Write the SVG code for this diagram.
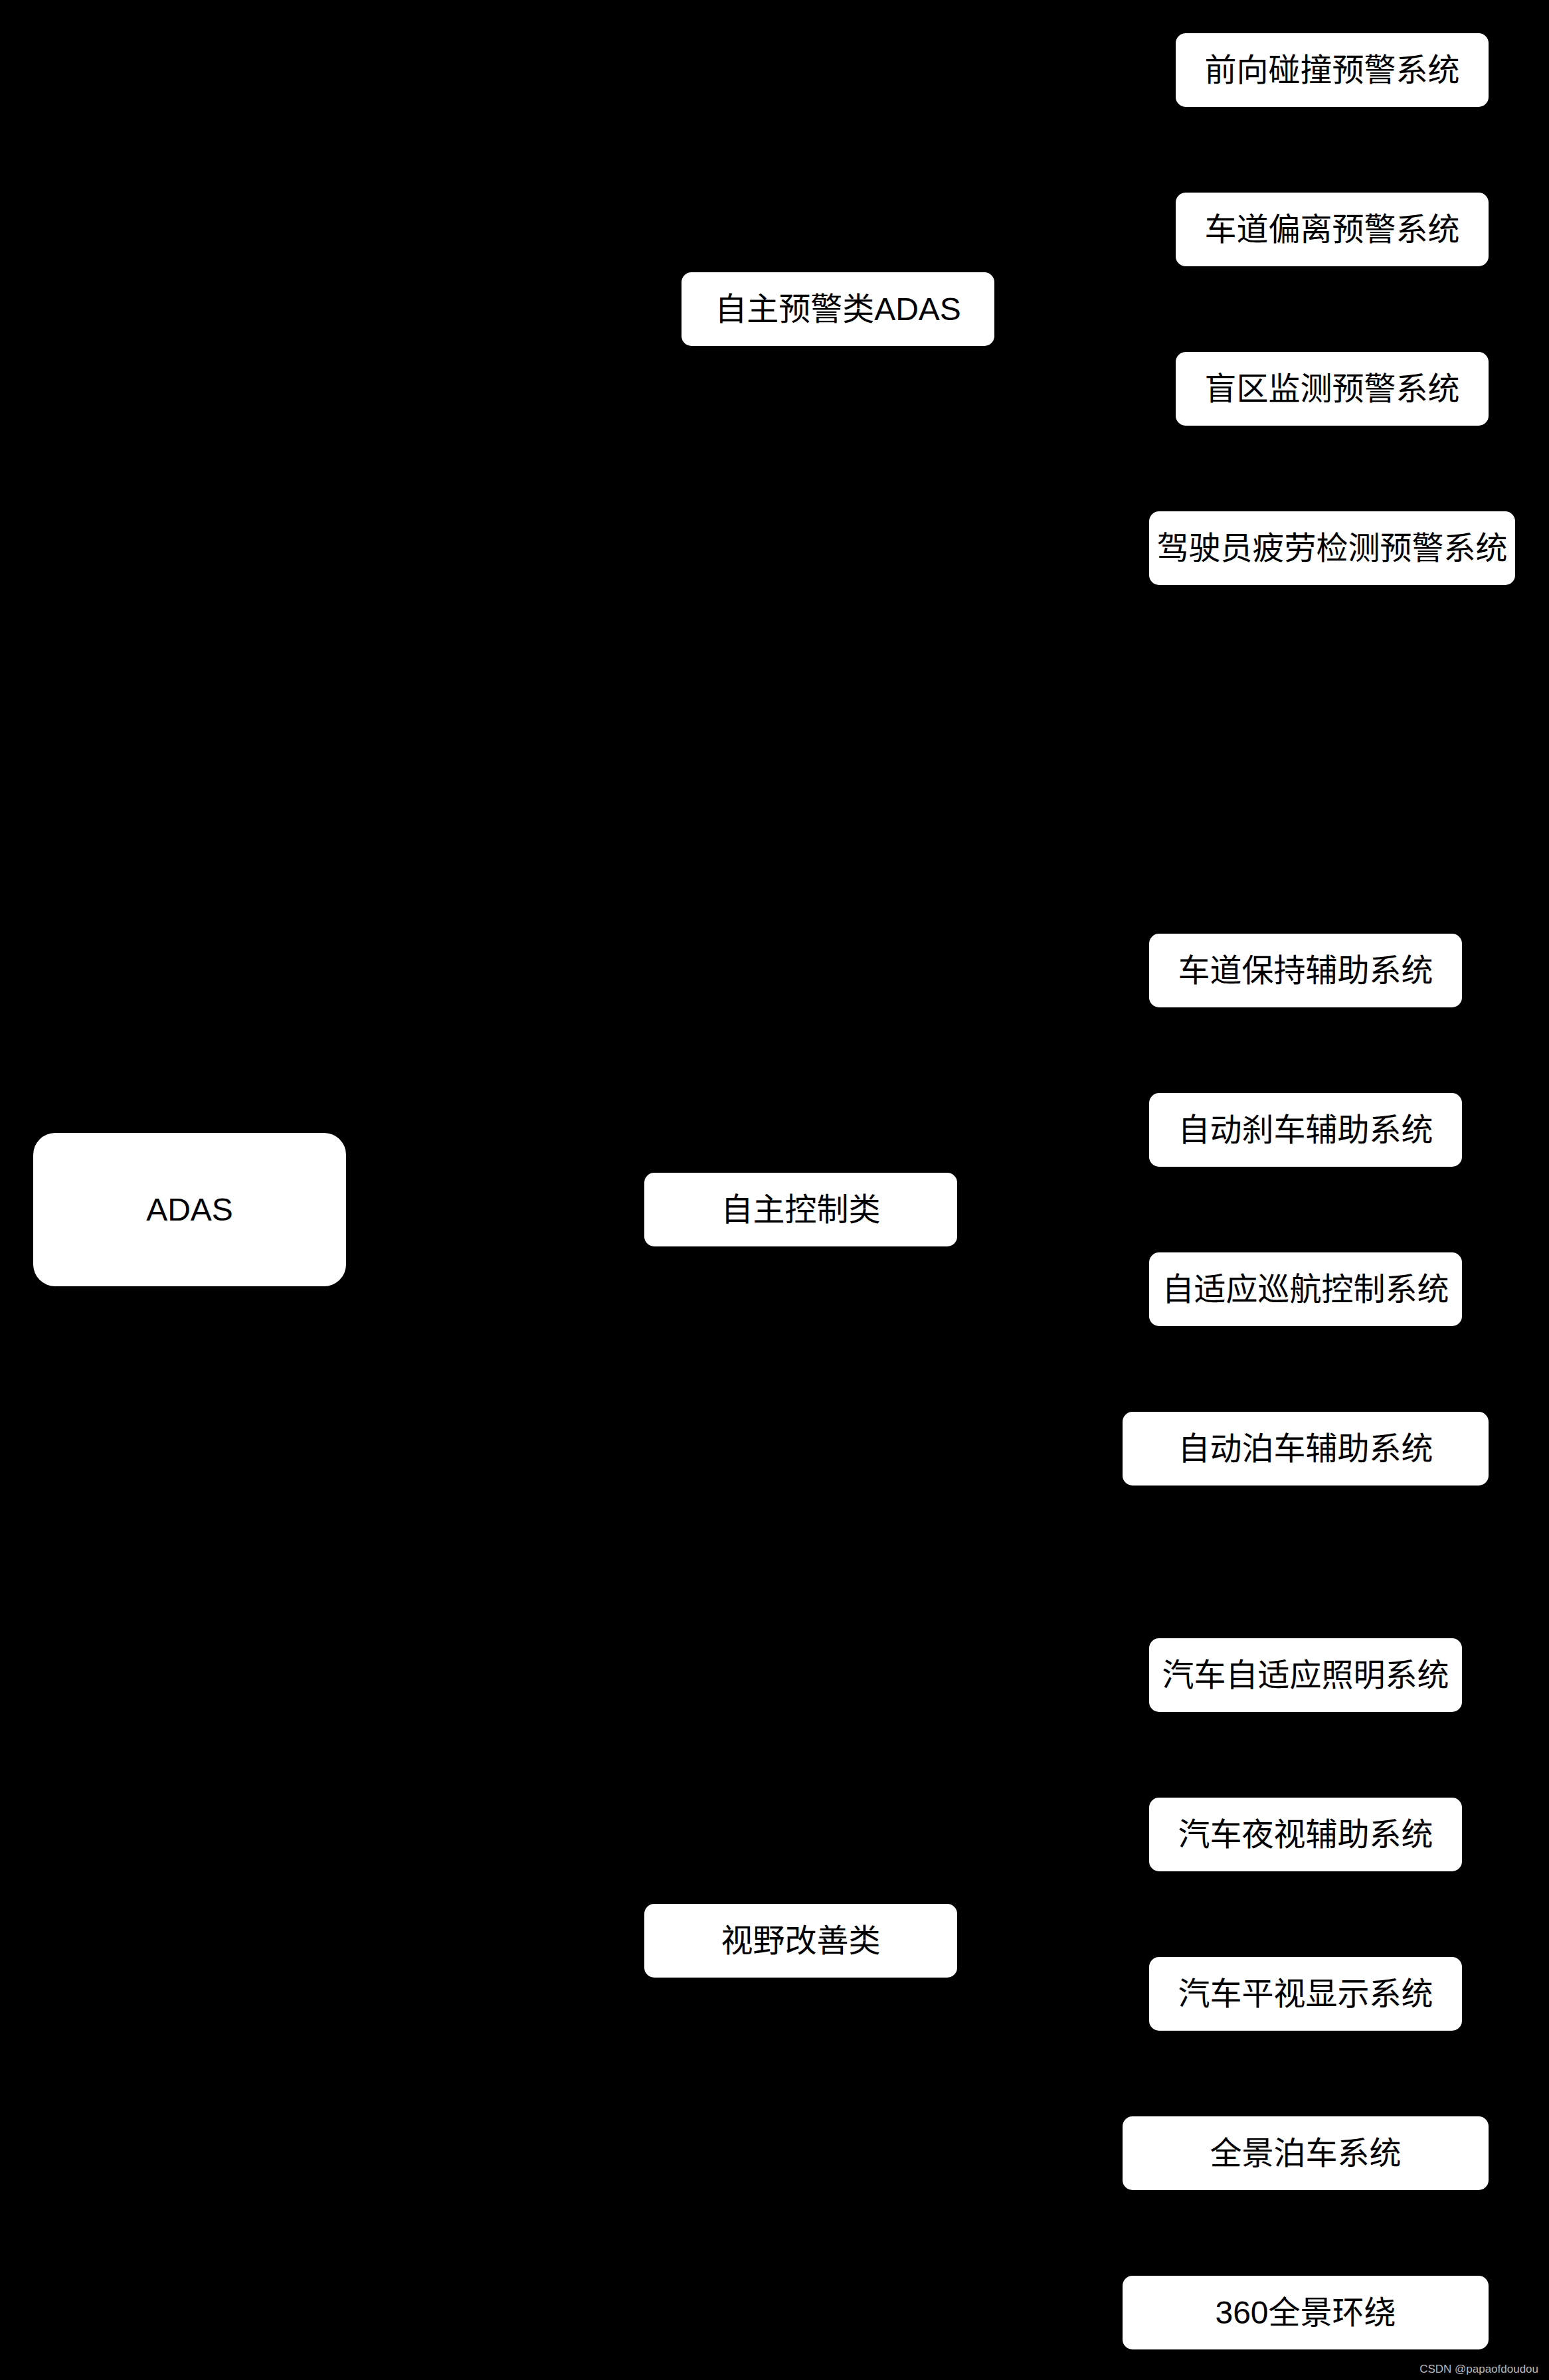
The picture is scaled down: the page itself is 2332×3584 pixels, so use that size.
<svg xmlns="http://www.w3.org/2000/svg" width="2332" height="3584" viewBox="0 0 2332 3584">
<style>
.bx{fill:#fff;stroke:none}
.t{font-family:"Liberation Sans","Noto Sans CJK SC",sans-serif;font-size:48px;fill:#000;text-anchor:middle}
.e{stroke:#000;stroke-width:2;fill:none;marker-end:url(#ar)}
.wm{font-family:"Liberation Sans",sans-serif;font-size:17px;fill:#b8b8b8;text-anchor:end}
</style>
<defs>
<marker id="ar" markerWidth="10" markerHeight="10" refX="9" refY="5" orient="auto" markerUnits="userSpaceOnUse"><path d="M0,0 L10,5 L0,10 Z" fill="#000"/></marker>
</defs>
<rect width="2332" height="3584" fill="#000"/>
<g id="connectors">
<path class="e" d="M521,1821 L969,465 L1026,465"/>
<path class="e" d="M521,1821 L969,1821"/>
<path class="e" d="M521,1821 L969,2922"/>
<path class="e" d="M1497,465 L1770,105"/>
<path class="e" d="M1497,465 L1770,345"/>
<path class="e" d="M1497,465 L1770,586"/>
<path class="e" d="M1497,465 L1730,825"/>
<path class="e" d="M1441,1821 L1730,1461"/>
<path class="e" d="M1441,1821 L1730,1701"/>
<path class="e" d="M1441,1821 L1730,1941"/>
<path class="e" d="M1441,1821 L1690,2181"/>
<path class="e" d="M1441,2922 L1730,2522"/>
<path class="e" d="M1441,2922 L1730,2762"/>
<path class="e" d="M1441,2922 L1730,3002"/>
<path class="e" d="M1441,2922 L1690,3242"/>
<path class="e" d="M1441,2922 L1690,3482"/>
</g>
<g id="n-adas"><rect class="bx" x="50" y="1706" width="471" height="231" rx="33"/><text class="t" x="285.5" y="1838">ADAS</text></g>
<g id="n-warn"><rect class="bx" x="1026" y="410" width="471" height="111" rx="15"/><text class="t" x="1261.5" y="482">自主预警类ADAS</text></g>
<g id="n-ctrl"><rect class="bx" x="970" y="1766" width="471" height="111" rx="15"/><text class="t" x="1205.5" y="1838">自主控制类</text></g>
<g id="n-view"><rect class="bx" x="970" y="2867" width="471" height="111" rx="15"/><text class="t" x="1205.5" y="2939">视野改善类</text></g>
<g id="n-fcw"><rect class="bx" x="1770" y="50" width="471" height="111" rx="15"/><text class="t" x="2005.5" y="122">前向碰撞预警系统</text></g>
<g id="n-ldw"><rect class="bx" x="1770" y="290" width="471" height="111" rx="15"/><text class="t" x="2005.5" y="362">车道偏离预警系统</text></g>
<g id="n-bsd"><rect class="bx" x="1770" y="530" width="471" height="111" rx="15"/><text class="t" x="2005.5" y="602">盲区监测预警系统</text></g>
<g id="n-dfm"><rect class="bx" x="1730" y="770" width="551" height="111" rx="15"/><text class="t" x="2005.5" y="842">驾驶员疲劳检测预警系统</text></g>
<g id="n-lka"><rect class="bx" x="1730" y="1406" width="471" height="111" rx="15"/><text class="t" x="1965.5" y="1478">车道保持辅助系统</text></g>
<g id="n-aeb"><rect class="bx" x="1730" y="1646" width="471" height="111" rx="15"/><text class="t" x="1965.5" y="1718">自动刹车辅助系统</text></g>
<g id="n-acc"><rect class="bx" x="1730" y="1886" width="471" height="111" rx="15"/><text class="t" x="1965.5" y="1958">自适应巡航控制系统</text></g>
<g id="n-apa"><rect class="bx" x="1690" y="2126" width="551" height="111" rx="15"/><text class="t" x="1965.5" y="2198">自动泊车辅助系统</text></g>
<g id="n-afs"><rect class="bx" x="1730" y="2467" width="471" height="111" rx="15"/><text class="t" x="1965.5" y="2539">汽车自适应照明系统</text></g>
<g id="n-nv"><rect class="bx" x="1730" y="2707" width="471" height="111" rx="15"/><text class="t" x="1965.5" y="2779">汽车夜视辅助系统</text></g>
<g id="n-hud"><rect class="bx" x="1730" y="2947" width="471" height="111" rx="15"/><text class="t" x="1965.5" y="3019">汽车平视显示系统</text></g>
<g id="n-avm"><rect class="bx" x="1690" y="3187" width="551" height="111" rx="15"/><text class="t" x="1965.5" y="3259">全景泊车系统</text></g>
<g id="n-360"><rect class="bx" x="1690" y="3427" width="551" height="111" rx="15"/><text class="t" x="1965.5" y="3499">360全景环绕</text></g>
<text class="wm" x="2316" y="3573">CSDN @papaofdoudou</text>
</svg>
